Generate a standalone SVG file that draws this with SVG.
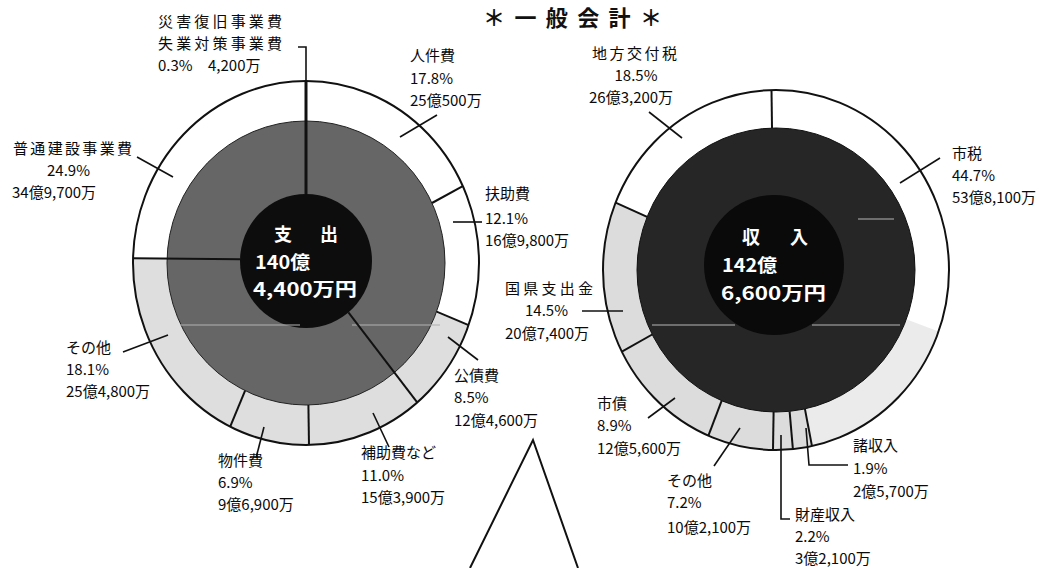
<svg xmlns="http://www.w3.org/2000/svg" width="1045" height="568" viewBox="0 0 1045 568">
<defs>
<style>
text{font-family:"Noto Sans CJK JP","Noto Sans CJK SC",sans-serif;}
.lbl{font-size:15px;fill:#0a0a0a;}
.ctr{font-size:18px;font-weight:700;fill:#ffffff;}
.ttl{font-size:22px;font-weight:700;fill:#111111;}
.rim{fill:none;stroke:#111111;stroke-width:2;}
.div{fill:none;stroke:#111111;stroke-width:2;}
.ld{fill:none;stroke:#111111;stroke-width:1.6;}
.streak{stroke:#b0b0b0;stroke-width:1.5;opacity:0.7;}
</style>
</defs>
<rect width="1045" height="568" fill="#ffffff"/>

<g id="title">
<text class="ttl" x="483" y="26" textLength="179" lengthAdjust="spacing">＊一般会計＊</text>
</g>

<g id="expenditure-chart">
<ellipse cx="306" cy="263" rx="173" ry="182" fill="#ffffff"/>
<path d="M306,263 L468.6,325.2 A173,182 0 0 1 133.1,258.2 Z" fill="#dedede"/>
<ellipse class="rim" cx="306" cy="263" rx="173" ry="182"/>
<ellipse cx="306" cy="263" rx="139" ry="142" fill="#666666" stroke="#222222" stroke-width="1"/>
<ellipse cx="306" cy="261" rx="66" ry="67" fill="#0d0d0d"/>
<line class="streak" x1="180" y1="325" x2="300" y2="325"/>
<line class="streak" x1="352" y1="325" x2="440" y2="325"/>
<line class="div" x1="306" y1="81" x2="306" y2="194" style="stroke-width:3"/>
<line class="div" x1="462.8" y1="186.1" x2="432" y2="203"/>
<line class="div" x1="468.6" y1="325.2" x2="436.6" y2="311.6"/>
<line class="div" x1="417.2" y1="402.4" x2="348.4" y2="312.3"/>
<line class="div" x1="309" y1="445" x2="308.4" y2="405"/>
<line class="div" x1="230.2" y1="426.6" x2="245.1" y2="390.6"/>
<line class="div" x1="133.1" y1="258.2" x2="240" y2="259.3"/>
<text class="ctr" x="274" y="241" textLength="64" lengthAdjust="spacing">支　出</text>
<text class="ctr" x="255" y="269" textLength="55" lengthAdjust="spacingAndGlyphs">140億</text>
<text class="ctr" x="253" y="296" textLength="104" lengthAdjust="spacingAndGlyphs">4,400万円</text>
</g>

<g id="revenue-chart">
<ellipse cx="776" cy="270" rx="173" ry="180" fill="#ffffff"/>
<path d="M776,270 L938.6,331.6 A173,180 0 0 1 812,446.1 Z" fill="#ebebeb"/>
<path d="M776,270 L812,446.1 A173,180 0 0 1 615.6,202.6 Z" fill="#dcdcdc"/>
<ellipse class="rim" cx="776" cy="270" rx="173" ry="180"/>
<ellipse cx="776" cy="270" rx="139" ry="142" fill="#262626" stroke="#111111" stroke-width="1"/>
<ellipse cx="774" cy="265" rx="70" ry="70" fill="#0a0a0a"/>
<line class="streak" x1="652" y1="325" x2="735" y2="325"/>
<line class="streak" x1="812" y1="325" x2="900" y2="325"/>
<line class="streak" x1="858" y1="219" x2="894" y2="219"/>
<line class="div" x1="771.5" y1="90" x2="772" y2="128"/>
<line class="div" x1="812" y1="446.1" x2="804.9" y2="408.9"/>
<line class="div" x1="792.9" y1="449.1" x2="789.6" y2="411.3"/>
<line class="div" x1="773" y1="450" x2="773.6" y2="412"/>
<line class="div" x1="708.4" y1="435.7" x2="721.7" y2="400.7"/>
<line class="div" x1="621.9" y1="351.7" x2="652.2" y2="334.5"/>
<line class="div" x1="615.6" y1="202.6" x2="647.1" y2="216.8"/>
<text class="ctr" x="742" y="244" textLength="66" lengthAdjust="spacing">収　入</text>
<text class="ctr" x="722" y="272" textLength="55" lengthAdjust="spacingAndGlyphs">142億</text>
<text class="ctr" x="721" y="300" textLength="105" lengthAdjust="spacingAndGlyphs">6,600万円</text>
</g>

<g id="leaders">
<polyline class="ld" points="306,81 306,47 298,47"/>
<line class="ld" x1="437" y1="115" x2="400" y2="137"/>
<line class="ld" x1="453" y1="222" x2="482" y2="222"/>
<line class="ld" x1="137" y1="157" x2="173" y2="177"/>
<line class="ld" x1="123" y1="352" x2="168" y2="335"/>
<line class="ld" x1="256" y1="458" x2="264" y2="427"/>
<line class="ld" x1="389" y1="447" x2="373" y2="413"/>
<line class="ld" x1="478" y1="360" x2="448" y2="337"/>
<line class="ld" x1="649" y1="112" x2="682" y2="138"/>
<line class="ld" x1="940" y1="158" x2="900" y2="183"/>
<line class="ld" x1="582" y1="311" x2="623" y2="311"/>
<line class="ld" x1="648" y1="418" x2="675" y2="398"/>
<line class="ld" x1="714" y1="466" x2="740" y2="428"/>
<polyline class="ld" points="806,428 809,465 848,465"/>
<polyline class="ld" points="781,435 781,519 790,519"/>
</g>

<g id="callout">
<polyline points="470,568 533,440 578,568" fill="none" stroke="#111111" stroke-width="2"/>
</g>

<g id="label-saigai">
<text class="lbl" x="158" y="27" textLength="124" lengthAdjust="spacing">災害復旧事業費</text>
<text class="lbl" x="158" y="49" textLength="124" lengthAdjust="spacing">失業対策事業費</text>
<text class="lbl" x="158" y="71">0.3%</text>
<text class="lbl" x="208" y="71">4,200万</text>
</g>
<g id="label-jinkenhi">
<text class="lbl" x="410" y="61">人件費</text>
<text class="lbl" x="410" y="84">17.8%</text>
<text class="lbl" x="410" y="106">25億500万</text>
</g>
<g id="label-fujohi">
<text class="lbl" x="485" y="199">扶助費</text>
<text class="lbl" x="485" y="224">12.1%</text>
<text class="lbl" x="485" y="246">16億9,800万</text>
</g>
<g id="label-futsukensetsu">
<text class="lbl" x="13" y="154" textLength="119" lengthAdjust="spacing">普通建設事業費</text>
<text class="lbl" x="47" y="176">24.9%</text>
<text class="lbl" x="12" y="198">34億9,700万</text>
</g>
<g id="label-sonota-exp">
<text class="lbl" x="66" y="353">その他</text>
<text class="lbl" x="66" y="375">18.1%</text>
<text class="lbl" x="66" y="397">25億4,800万</text>
</g>
<g id="label-bukkenhi">
<text class="lbl" x="218" y="466">物件費</text>
<text class="lbl" x="218" y="488">6.9%</text>
<text class="lbl" x="218" y="510">9億6,900万</text>
</g>
<g id="label-hojohi">
<text class="lbl" x="361" y="458">補助費など</text>
<text class="lbl" x="361" y="481">11.0%</text>
<text class="lbl" x="361" y="503">15億3,900万</text>
</g>
<g id="label-kosaihi">
<text class="lbl" x="454" y="381">公債費</text>
<text class="lbl" x="454" y="403">8.5%</text>
<text class="lbl" x="454" y="426">12億4,600万</text>
</g>

<g id="label-chihokofuzei">
<text class="lbl" x="592" y="59" textLength="85" lengthAdjust="spacing">地方交付税</text>
<text class="lbl" x="636" y="81" text-anchor="middle">18.5%</text>
<text class="lbl" x="589" y="103">26億3,200万</text>
</g>
<g id="label-shizei">
<text class="lbl" x="952" y="159">市税</text>
<text class="lbl" x="952" y="181">44.7%</text>
<text class="lbl" x="952" y="203">53億8,100万</text>
</g>
<g id="label-kokken">
<text class="lbl" x="505" y="294" textLength="88" lengthAdjust="spacing">国県支出金</text>
<text class="lbl" x="525" y="316">14.5%</text>
<text class="lbl" x="505" y="339">20億7,400万</text>
</g>
<g id="label-shisai">
<text class="lbl" x="597" y="409">市債</text>
<text class="lbl" x="597" y="431">8.9%</text>
<text class="lbl" x="597" y="454">12億5,600万</text>
</g>
<g id="label-sonota-rev">
<text class="lbl" x="667" y="486">その他</text>
<text class="lbl" x="667" y="508">7.2%</text>
<text class="lbl" x="667" y="533">10億2,100万</text>
</g>
<g id="label-shoshunyu">
<text class="lbl" x="853" y="451">諸収入</text>
<text class="lbl" x="853" y="474">1.9%</text>
<text class="lbl" x="853" y="497">2億5,700万</text>
</g>
<g id="label-zaisan">
<text class="lbl" x="795" y="520">財産収入</text>
<text class="lbl" x="795" y="542">2.2%</text>
<text class="lbl" x="795" y="564">3億2,100万</text>
</g>
</svg>
